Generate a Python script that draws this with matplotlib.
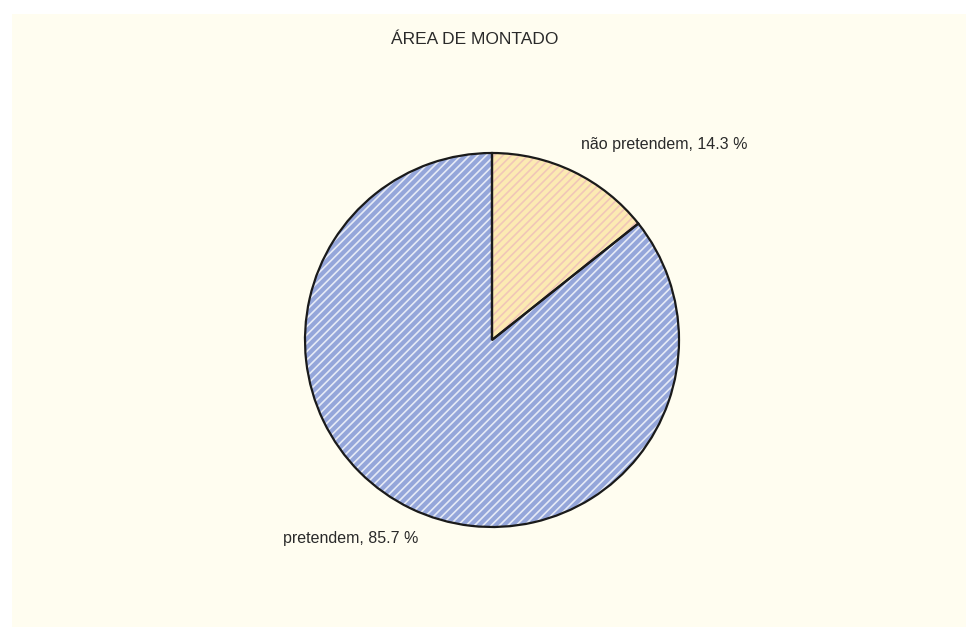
import matplotlib.pyplot as plt
from matplotlib.patches import Rectangle

labels = ['não pretendem', 'pretendem']
values = [14.3, 85.7]
face_colors = ['#FCEAB2', '#95A6DA']
hatch_colors = ['#F0C6B8', '#E6EAF6']

plt.rcParams['font.family'] = ['Liberation Sans', 'DejaVu Sans']
plt.rcParams['hatch.linewidth'] = 1.2

W, H = 966, 627
fig = plt.figure(figsize=(W / 100, H / 100), dpi=100, facecolor='white')

# cream panel behind the chart
fig.patches.append(Rectangle((12 / W, 0), 1, 1 - 14 / H, transform=fig.transFigure,
                             facecolor='#FFFDF0', edgecolor='none', zorder=-5))

cx, cy, r = 492, H - 340, 187
lim = 1.2
side = 2 * r * lim
ax = fig.add_axes([(cx - side / 2) / W, (cy - side / 2) / H, side / W, side / H])
ax.set_zorder(2)
ax.axis('off')

texts = [f'{l}, {v} %' for l, v in zip(labels, values)]

# hatched fill
wedges, _ = ax.pie(values, startangle=90, counterclock=False, radius=1,
                   wedgeprops=dict(linewidth=0))
for w, fc, hc in zip(wedges, face_colors, hatch_colors):
    w.set_facecolor(fc)
    w.set_edgecolor(hc)
    w.set_hatch('////')

# outlines and labels
_, label_texts = ax.pie(values, startangle=90, counterclock=False, radius=1,
                        labels=texts, labeldistance=1.1, colors=['none', 'none'],
                        wedgeprops=dict(linewidth=1.6, edgecolor='#1a1a1a', fill=False),
                        textprops=dict(fontsize=11.5, color='#2a2a2a'))
# nudge labels to where the original puts them (offsets in radius units)
nudges = [(0.0, 0.055), (0.085, -0.07)]
for t, (dx, dy) in zip(label_texts, nudges):
    x, y = t.get_position()
    t.set_position((x + dx, y + dy))

ax.set_xlim(-lim, lim)
ax.set_ylim(-lim, lim)
ax.set_aspect('equal')

fig.text(475 / W, 1 - 40 / H, 'ÁREA DE MONTADO', ha='center', va='center',
         fontsize=12.5, color='#2a2a2a')

fig.savefig('out.png', dpi=100, facecolor='white')
